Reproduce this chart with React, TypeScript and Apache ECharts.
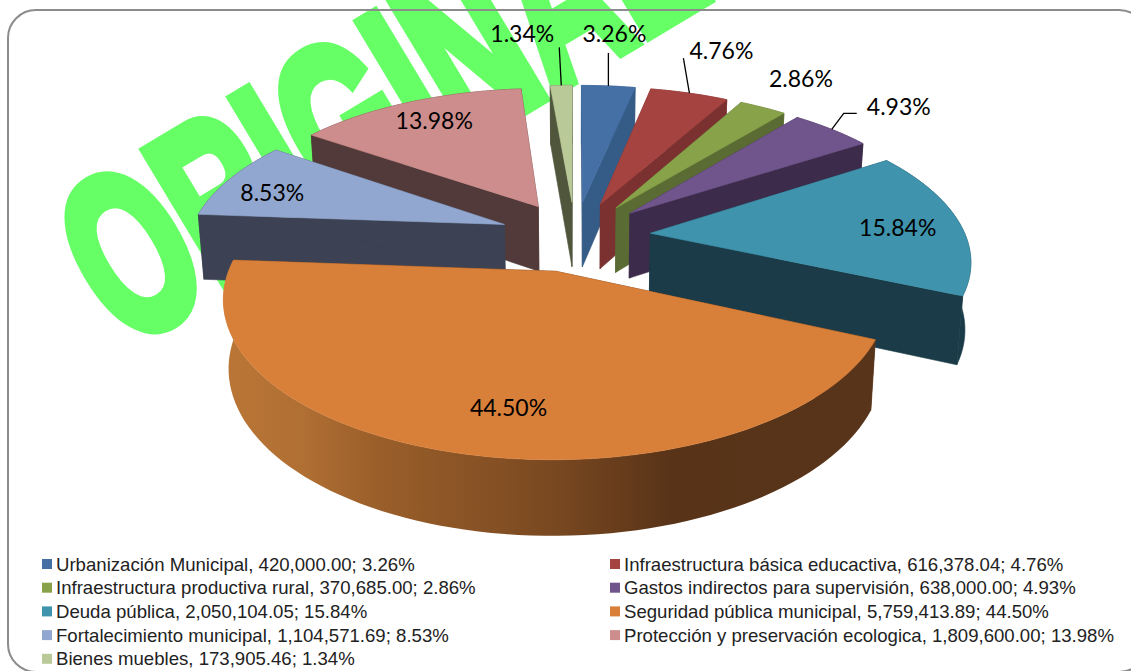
import React, { useEffect, useRef } from "react";
import * as echarts from "echarts";

const categories = [
  "Urbanización Municipal",
  "Infraestructura básica educactiva",
  "Infraestructura productiva rural",
  "Gastos indirectos para supervisión",
  "Deuda pública",
  "Seguridad pública municipal",
  "Fortalecimiento municipal",
  "Protección y preservación ecologica",
  "Bienes muebles",
];
const amounts = [
  "420,000.00", "616,378.04", "370,685.00", "638,000.00", "2,050,104.05",
  "5,759,413.89", "1,104,571.69", "1,809,600.00", "173,905.46",
];
const percents = [3.26, 4.76, 2.86, 4.93, 15.84, 44.5, 8.53, 13.98, 1.34];

const topColors = ["#4570a6", "#a54340", "#88a24a", "#70558d", "#3f93ac", "#d87f39", "#92a7cf", "#cd8d8c", "#b9c997"];
const wallColors = ["#355b87", "#7a312f", "#5a6b33", "#3c2b4a", "#1a3b47", "#57341a", "#3c4253", "#533a3a", "#4f563c"];
const drawRank = [1, 2, 3, 4, 7, 8, 6, 5, 0];
// label centre relative to the rim midpoint of the slice
const labelOffsets = [[6, -53], [32, -43], [38, -29], [67, -23], [-61, 5], [51, -46], [43, 13], [26, 18], [-39, -52]];
// leader line points relative to the rim midpoint
const leaders: number[][][] = [
  [[0, 0], [0, -33]],
  [[0, 0], [-6, -35]],
  [],
  [[0, 0], [12, -16], [25, -16]],
  [], [], [], [],
  [[0, 0], [-2, -38]],
];

const CX = 575, CY = 236, R = 320, EXPLODE = 77, X_SCALE = 0.985;
const A = 0.455, B = 0.0005, DEPTH = 66, DEPTH_POW = 0.65, BOTTOM_X = 0.985;
const RAD = Math.PI / 180;
const total = percents.reduce((a, b) => a + b, 0);
const starts: number[] = [];
percents.reduce((acc, p, i) => { starts[i] = (acc / total) * 360; return acc + p; }, 0);

function project(i: number, theta: number, rr: number, bottom: boolean) {
  const mid = starts[i] + (percents[i] / total) * 180;
  const X = X_SCALE * (EXPLODE * Math.sin(mid * RAD) + rr * Math.sin(theta * RAD));
  const Y = -(EXPLODE * Math.cos(mid * RAD) + rr * Math.cos(theta * RAD));
  const s = 1 / (1 - B * Y);
  const px = CX + X * s * (bottom ? BOTTOM_X : 1);
  const py = CY + A * Y * s + (bottom ? DEPTH * Math.pow(s, DEPTH_POW) : 0);
  return [px, py];
}

function arc(i: number, bottom: boolean) {
  const a0 = starts[i];
  const a1 = a0 + (percents[i] / total) * 360;
  const n = Math.max(2, Math.ceil((a1 - a0) / 2));
  const pts: number[][] = [];
  for (let k = 0; k <= n; k++) pts.push(project(i, a0 + ((a1 - a0) * k) / n, R, bottom));
  return pts;
}

const orangeSide = new echarts.graphic.LinearGradient(225, 0, 875, 0, [
  { offset: 0, color: "#b97636" },
  { offset: 0.12, color: "#b06f33" },
  { offset: 0.23, color: "#9b5f2a" },
  { offset: 0.5, color: "#7a4921" },
  { offset: 0.69, color: "#583318" },
  { offset: 1, color: "#57341a" },
], true);

function poly(points: number[][], fill: any) {
  return {
    type: "polygon",
    shape: { points },
    style: { fill, stroke: fill === orangeSide ? undefined : fill, lineWidth: 0.6 },
  };
}

function renderSlice(i: number) {
  const wall = wallColors[i];
  const top = arc(i, false);
  const bot = arc(i, true);
  const a0 = starts[i];
  const apexT = project(i, a0, 0, false);
  const apexB = project(i, a0, 0, true);
  const children = [
    poly([apexT, top[0], bot[0], apexB], wall),
    poly([apexT, top[top.length - 1], bot[bot.length - 1], apexB], wall),
    poly([...top, ...bot.slice().reverse()], i === 5 ? orangeSide : wall),
    poly([apexT, ...top], topColors[i]),
  ];
  return { type: "group", children };
}

function renderLabels() {
  const children: any[] = [];
  percents.forEach((p, i) => {
    const mid = starts[i] + (p / total) * 180;
    const rim = project(i, mid, R, false);
    if (leaders[i].length) {
      children.push({
        type: "polyline",
        shape: { points: leaders[i].map((o) => [rim[0] + o[0], rim[1] + o[1]]) },
        style: { stroke: "#000", lineWidth: 1.3, fill: "none" },
      });
    }
    children.push({
      type: "text",
      x: rim[0] + labelOffsets[i][0],
      y: rim[1] + labelOffsets[i][1],
      style: {
        text: p.toFixed(2) + "%",
        font: '23px Lato',
        fill: "#000",
        textAlign: "center",
        textVerticalAlign: "middle",
      },
    });
  });
  return { type: "group", children };
}

const legendFormatter = (name: string) => {
  const i = categories.indexOf(name);
  return `${name}, ${amounts[i]}; ${percents[i].toFixed(2)}%`;
};

const legendBase = {
  orient: "vertical",
  icon: "rect",
  itemWidth: 10,
  itemHeight: 10,
  itemGap: 3.7,
  padding: 0,
  selectedMode: false,
  formatter: legendFormatter,
  textStyle: { fontFamily: "Liberation Sans", fontSize: 18.6, color: "#222", height: 20, lineHeight: 20, padding: [0, 0, 0, -1] },
};

export default function App() {
  const ref = useRef<HTMLDivElement>(null);
  useEffect(() => {
    document.body.style.margin = "0";
    const chart = echarts.init(ref.current!, undefined, { renderer: "svg" });
    chart.setOption({
      animation: false,
      backgroundColor: "#fff",
      graphic: [
        {
          type: "text",
          z: 0,
          x: 378,
          y: 104,
          rotation: 31 * RAD,
          scaleX: 0.61,
          style: {
            text: "ORIGINAL",
            font: 'bold 230px "Liberation Sans"',
            fill: "#66ff66",
            stroke: "#66ff66",
            lineWidth: 13,
            textAlign: "center",
            textVerticalAlign: "middle",
          },
        },
        {
          type: "rect",
          z: 1,
          shape: { x: 8, y: 10, width: 1139, height: 662, r: 28 },
          style: { fill: "none", stroke: "#8c8c8c", lineWidth: 2 },
        },
      ],
      legend: [
        { ...legendBase, left: 42, top: 554, data: categories.filter((_, i) => i % 2 === 0) },
        { ...legendBase, left: 610, top: 554, data: categories.filter((_, i) => i % 2 === 1) },
      ],
      series: [
        ...categories.map((name, i) => ({
          type: "custom",
          name,
          coordinateSystem: "none",
          z: 2 + drawRank[i],
          silent: true,
          itemStyle: { color: topColors[i] },
          data: [[percents[i]]],
          renderItem: () => renderSlice(i),
        })),
        {
          type: "custom",
          name: "labels",
          coordinateSystem: "none",
          z: 20,
          silent: true,
          data: [[0]],
          renderItem: renderLabels,
        },
      ],
    });
    return () => chart.dispose();
  }, []);
  return <div ref={ref} style={{ position: "absolute", left: 0, top: 0, width: 1131, height: 671 }} />;
}
